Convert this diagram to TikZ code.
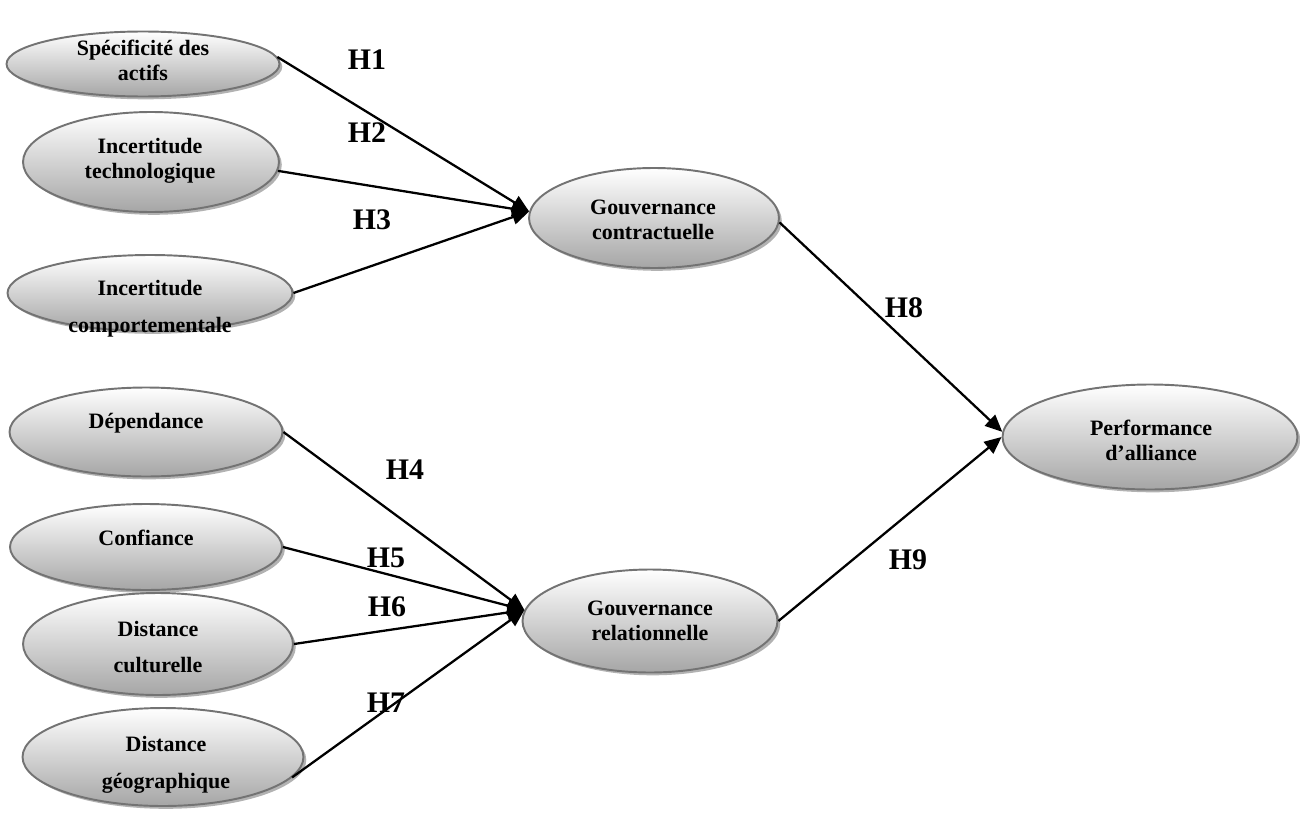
\documentclass[tikz,border=0pt]{standalone}
\usepackage{fontspec}
\setmainfont{Liberation Serif}
\usetikzlibrary{shapes.geometric,arrows.meta,shadows}
\begin{document}
\begin{tikzpicture}[x=0.02cm,y=-0.02cm,
  ell/.style={ellipse, draw=black!55, line width=1.1pt, top color=white, bottom color=black!35,
    inner sep=0pt, drop shadow={shadow xshift=1.6pt, shadow yshift=-1.6pt, fill=black!30, opacity=1}},
  lbl/.style={font=\bfseries\fontsize{12.5}{14.2}\selectfont, align=center, inner sep=0pt},
  lblw/.style={font=\bfseries\fontsize{12.5}{21}\selectfont, align=center, inner sep=0pt},
  hyp/.style={font=\bfseries\fontsize{17}{20}\selectfont, inner sep=0pt},
  arr/.style={-{Triangle[length=9.7pt,width=8.5pt]}, line width=1.3pt}]
\useasboundingbox (0,0) rectangle (1300,828);

% ellipses
\node[ell, minimum width=5.46cm, minimum height=1.30cm] (e1) at (143,64) {};
\node[ell, minimum width=5.12cm, minimum height=2.00cm] (e2) at (151,162) {};
\node[ell, minimum width=5.70cm, minimum height=1.52cm] (e3) at (150,293) {};
\node[ell, minimum width=5.46cm, minimum height=1.78cm] (e4) at (146,432) {};
\node[ell, minimum width=5.44cm, minimum height=1.72cm] (e5) at (146,547) {};
\node[ell, minimum width=5.40cm, minimum height=2.04cm] (e6) at (158,644) {};
\node[ell, minimum width=5.62cm, minimum height=1.96cm] (e7) at (163,757) {};
\node[ell, minimum width=5.00cm, minimum height=2.00cm] (gc) at (654,218) {};
\node[ell, minimum width=5.10cm, minimum height=2.06cm] (gr) at (650,621) {};
\node[ell, minimum width=5.90cm, minimum height=2.10cm] (pa) at (1150,437) {};

% texts
\node[lbl] (t1) at (143,60) {Spécificité des\\actifs};
\node[lbl] (t2) at (150,161) {Incertitude\\technologique};
\node[lblw] (t3) at (150,309) {Incertitude\\comportementale};
\node[lbl] (t4) at (146,423) {Dépendance};
\node[lbl] (t5) at (146,538) {Confiance};
\node[lblw] (t6) at (158,647) {Distance\\culturelle};
\node[lblw] (t7) at (166,765) {Distance\\géographique};
\node[lbl] (tgc) at (653,220) {Gouvernance\\contractuelle};
\node[lbl] (tgr) at (650,621) {Gouvernance\\relationnelle};
\node[lbl] (tpa) at (1151,440) {Performance\\d’alliance};

% hypotheses labels
\node[hyp] (h1) at (367,60) {H1};
\node[hyp] (h2) at (367,133) {H2};
\node[hyp] (h3) at (372,220) {H3};
\node[hyp] (h4) at (405,470) {H4};
\node[hyp] (h5) at (386,558) {H5};
\node[hyp] (h6) at (387,607) {H6};
\node[hyp] (h7) at (386,703) {H7};
\node[hyp] (h8) at (904,308) {H8};
\node[hyp] (h9) at (908,560) {H9};

% connectors
\draw[arr] (e1.3) -- (gc.177);
\draw[arr] (e2.-4) -- (gc.177);
\draw[arr] (e3.east) -- (gc.177);
\draw[arr] (e4.east) -- (gr.175);
\draw[arr] (e5.east) -- (gr.175);
\draw[arr] (e6.east) -- (gr.175);
\draw[arr] (e7.-9) -- (gr.175);
\draw[arr] (gc.-2) -- (pa.178);
\draw[arr] (gr.east) -- (pa.180);
\end{tikzpicture}
\end{document}
